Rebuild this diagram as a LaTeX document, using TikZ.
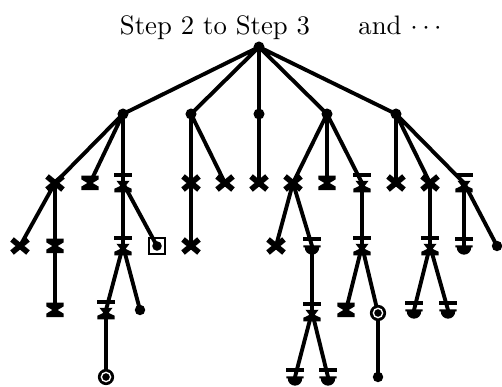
\documentclass[tikz,border=0pt]{standalone}
\usepackage{amsmath}
\usepackage{tikz}

\tikzset{
    edge/.style={line width=1.45pt, line cap=round},
    marksize/.style={scale=1.45},
    % leaf and branch markers
    pics/dotm/.style={code={\fill (0,0) circle[radius=3.6];}},
    pics/bigdotm/.style={code={\fill (0,0) circle[radius=3.8];}},
    pics/crossm/.style={code={\draw[line width=2.1pt] (-5.5,-4.5) -- (5.5,4.5) (-5.5,4.5) -- (5.5,-4.5);}},
    pics/cutm/.style={code={\fill (-6,-5) -- (6,-5) -- (6,-2.5) -- (1.8,0) -- (6,2.5) -- (6,5)
                                  -- (-6,5) -- (-6,2.5) -- (-1.8,0) -- (-6,-2.5) -- cycle;}},
    pics/barcutm/.style={code={\fill (-6,-7) rectangle (6,-4.2);
                               \fill (-4.5,-1.5) -- (4.5,-1.5) -- (1.8,2) -- (6,4) -- (6,6.5)
                                  -- (-6,6.5) -- (-6,4) -- (-1.8,2) -- cycle;}},
    pics/barsemim/.style={code={\fill (-6,-6) rectangle (6,-3.2);
                                \fill (-6,-0.5) -- (6,-0.5) -- (6,1) -- (5,1)
                                   arc[start angle=0, end angle=180, radius=5] -- (-6,1) -- cycle;}},
    pics/ringm/.style={code={\fill (0,0) circle[radius=5.6];
                             \draw[white, line width=0.5pt] (0,0) circle[radius=3.2];}},
    pics/boxm/.style={code={\draw[line width=1pt] (-5.5,-5.5) rectangle (5.5,5.5);
                            \fill (0,0) circle[radius=3.3];}},
}

\begin{document}
\begin{tikzpicture}[x=0.374pt, y=-0.374pt]
    \useasboundingbox (0,0) rectangle (502,387);

    % Heading
    \node[anchor=base] (title) at (215,35) {Step 2 to Step 3};
    \node[anchor=base west] (more) at (349,35) {and $\cdots$};

    % Root and first level
    \coordinate (r)  at (259, 47);
    \coordinate (a)  at (123,114);
    \coordinate (b)  at (191,114);
    \coordinate (c)  at (259,114);
    \coordinate (d)  at (327,114);
    \coordinate (e)  at (396,114);
    % Second level
    \coordinate (a1) at ( 55,183);
    \coordinate (a2) at ( 90,183);
    \coordinate (a3) at (123,183);
    \coordinate (b1) at (191,183);
    \coordinate (b2) at (225,183);
    \coordinate (c1) at (259,183);
    \coordinate (d1) at (293,183);
    \coordinate (d2) at (327,183);
    \coordinate (d3) at (362,183);
    \coordinate (e1) at (396,183);
    \coordinate (e2) at (430,183);
    \coordinate (e3) at (464,183);
    % Third level
    \coordinate (a11) at ( 20,246);
    \coordinate (a12) at ( 55,246);
    \coordinate (a31) at (123,246);
    \coordinate (a32) at (157,246);
    \coordinate (b11) at (191,246);
    \coordinate (d11) at (276,246);
    \coordinate (d12) at (312,246);
    \coordinate (d31) at (362,246);
    \coordinate (e21) at (430,246);
    \coordinate (e31) at (464,246);
    \coordinate (e32) at (497,246);
    % Fourth level
    \coordinate (a121) at ( 55,310);
    \coordinate (a311) at (106,310);
    \coordinate (a312) at (140,310);
    \coordinate (d121) at (312,312);
    \coordinate (d311) at (346,310);
    \coordinate (d312) at (378,313);
    \coordinate (e211) at (414,310);
    \coordinate (e212) at (448,310);
    % Fifth level
    \coordinate (a3111) at (106,377);
    \coordinate (d1211) at (295,377);
    \coordinate (d1212) at (328,377);
    \coordinate (d3121) at (378,377);

    % Branches
    \draw[edge] (r) -- (a)  (r) -- (b)  (r) -- (c)  (r) -- (d)  (r) -- (e);
    \draw[edge] (a) -- (a1) (a) -- (a2) (a) -- (a3);
    \draw[edge] (b) -- (b1) (b) -- (b2);
    \draw[edge] (c) -- (c1);
    \draw[edge] (d) -- (d1) (d) -- (d2) (d) -- (d3);
    \draw[edge] (e) -- (e1) (e) -- (e2) (e) -- (e3);
    \draw[edge] (a1) -- (a11) (a1) -- (a12) (a12) -- (a121);
    \draw[edge] (a3) -- (a31) (a3) -- (a32);
    \draw[edge] (a31) -- (a311) (a31) -- (a312) (a311) -- (a3111);
    \draw[edge] (b1) -- (b11);
    \draw[edge] (d1) -- (d11) (d1) -- (d12) (d12) -- (d121);
    \draw[edge] (d121) -- (d1211) (d121) -- (d1212);
    \draw[edge] (d3) -- (d31) (d31) -- (d311) (d31) -- (d312) (d312) -- (d3121);
    \draw[edge] (e2) -- (e21) (e21) -- (e211) (e21) -- (e212);
    \draw[edge] (e3) -- (e31) (e3) -- (e32);

    % Markers
    \foreach \p in {r, a, b, c, d, e} \pic[marksize] at (\p) {bigdotm};
    \foreach \p in {a1, b1, b2, c1, d1, e1, e2, a11, b11, d11} \pic[marksize] at (\p) {crossm};
    \foreach \p in {a2, d2, a12, a121, d311} \pic[marksize] at (\p) {cutm};
    \foreach \p in {a3, d3, e3, a31, d31, e21, a311, d121} \pic[marksize] at (\p) {barcutm};
    \foreach \p in {d12, e31, e211, e212, d1211, d1212} \pic[marksize] at (\p) {barsemim};
    \foreach \p in {e32, a312, d3121} \pic[marksize] at (\p) {dotm};
    \foreach \p in {d312, a3111} \pic[marksize] at (\p) {ringm};
    \pic[marksize] at (a32) {boxm};
\end{tikzpicture}
\end{document}
